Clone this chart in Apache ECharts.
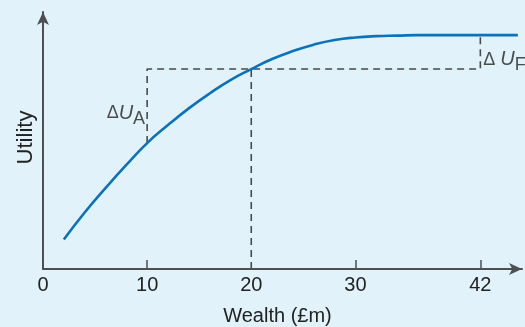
<!DOCTYPE html>
<html>
<head>
<meta charset="utf-8">
<script src="https://cdn.jsdelivr.net/npm/echarts@6/dist/echarts.min.js"></script>
<style>
html,body{margin:0;padding:0;background:#e1f2fa;}
#c{width:525px;height:327px;}
</style>
</head>
<body>
<div id="c"></div>
<script>
// Data
const wealth  = [2, 4, 6, 8, 10, 12, 14, 16, 18, 20, 22, 24, 26, 28, 30, 32, 34, 36, 38, 40, 42, 44, 45.6];
const utility = [11.5, 22, 31.5, 40.5, 49, 56, 62.5, 68.3, 73.5, 77.8, 81.7, 84.8, 87.3, 89.1, 90.1, 90.6, 90.8, 91, 91, 91, 91, 91, 91];
const xTickLabels = [0, 10, 20, 30, 42];
const xTickMarks = [10, 30, 42];
const wealthA = 10, wealthMid = 20, wealthF = 42;
const utilityMid = 77.8;   // utility at wealth 20
const utilityA = 49;       // utility at wealth 10
const utilityTop = 91;     // utility at wealth 42
const labelA_u = 60.5, labelF_u = 81.5;

const curve = wealth.map((w, i) => [w, utility[i]]);
const dashColor = '#4a4a4a';
const dashStyle = {color: dashColor, width: 1.6, type: [7, 5]};
function dashSeries(pts){
  return {type:'line', data: pts, showSymbol:false, silent:true, lineStyle: dashStyle, z:1};
}
const FONT = 'Liberation Sans, Arial, sans-serif';

const chart = echarts.init(document.getElementById('c'));
chart.setOption({
  backgroundColor: '#e1f2fa',
  animation: false,
  textStyle: {fontFamily: FONT},
  grid: {left: 43, right: 3, top: 12, bottom: 58, outerBoundsMode: 'none'},
  xAxis: {
    type: 'value', min: 0, max: 46,
    name: 'Wealth (£m)', nameLocation: 'middle', nameGap: 37,
    nameTextStyle: {fontSize: 20, fontFamily: FONT, color: '#222', padding: [0, 10, 0, 0]},
    axisLine: {show: true, onZero: false, symbol: ['none', 'arrow'], symbolSize: [9, 13],
      lineStyle: {color: '#4d4f53', width: 2}},
    axisTick: {show: true, inside: true, length: 9, customValues: xTickMarks, lineStyle: {color: '#4d4f53', width: 1.5}},
    axisLabel: {customValues: xTickLabels, fontSize: 20, fontFamily: FONT, color: '#222', margin: 6},
    splitLine: {show: false}
  },
  yAxis: {
    type: 'value', min: 0, max: 100,
    name: 'Utility', nameLocation: 'middle', nameGap: 6, nameRotate: 90,
    nameTextStyle: {fontSize: 22, fontFamily: FONT, color: '#222', padding: [0, 0, 0, 6]},
    axisLine: {show: true, onZero: false, symbol: ['none', 'arrow'], symbolSize: [9, 13],
      lineStyle: {color: '#4d4f53', width: 2}},
    axisTick: {show: false},
    axisLabel: {show: false},
    splitLine: {show: false}
  },
  series: [
    dashSeries([[wealthA, utilityA], [wealthA, utilityMid], [wealthF, utilityMid], [wealthF, utilityTop]]),
    dashSeries([[wealthMid, 0], [wealthMid, utilityMid]]),
    {
      type: 'line', data: curve, smooth: true, showSymbol: false, silent: true,
      lineStyle: {color: '#0a72bd', width: 2.6}, z: 3
    },
    {
      type: 'scatter', symbolSize: 0, silent: true,
      data: [
        {value: [wealthA, labelA_u], label: {show: true, position: 'left', distance: 2,
          formatter: '{d|Δ}{u|U}{s|A}'}},
        {value: [wealthF, labelF_u], label: {show: true, position: 'right', distance: 3,
          formatter: '{d|Δ }{u|U}{s|F}'}}
      ],
      label: {
        color: '#222',
        rich: {
          d: {fontSize: 18, fontFamily: FONT, color: '#222'},
          u: {fontSize: 20, fontFamily: FONT, fontStyle: 'italic', color: '#222'},
          s: {fontSize: 18, fontFamily: FONT, color: '#222', padding: [11, 0, 0, 0]}
        }
      }
    }
  ]
});
</script>
</body>
</html>
